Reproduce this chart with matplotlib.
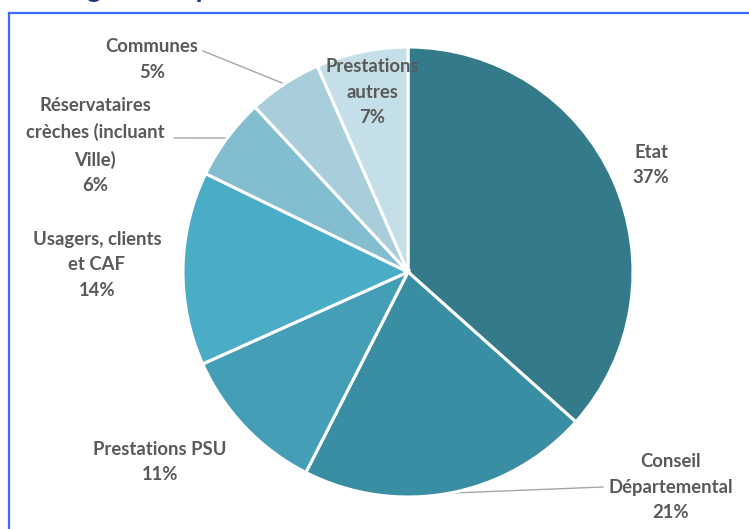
import matplotlib
matplotlib.use("Agg")
import matplotlib.pyplot as plt
from matplotlib.lines import Line2D
import numpy as np

# ---- data ----
categories = ["Etat", "Conseil\nDépartemental", "Prestations PSU",
              "Usagers, clients\net CAF", "Réservataires\ncrèches (incluant\nVille)",
              "Communes", "Prestations\nautres"]
values = [36.6, 20.9, 10.8, 13.9, 5.9, 5.3, 6.6]
pct_labels = ["37%", "21%", "11%", "14%", "6%", "5%", "7%"]
colors = ["#337A8A", "#3A8EA3", "#449EB6", "#4BACC6", "#82BED0", "#A8CEDB", "#C5DFE8"]
title = "Origine des produits"

W, H = 749, 529
fig = plt.figure(figsize=(W / 100, H / 100), dpi=100)
ax = fig.add_axes([0, 0, 1, 1])


def P(x, y):
    return (x, H - y)


cx, cy = P(408, 272)
R = 225
wedges, _ = ax.pie(values, colors=colors, startangle=90, counterclock=False,
                   center=(cx, cy), radius=R, frame=True,
                   wedgeprops=dict(edgecolor="white", linewidth=2.2))
ax.set_xlim(0, W)
ax.set_ylim(0, H)
ax.set_aspect("equal")
ax.axis("off")

# label centre positions (pixel coords)
label_pos = [(651, 165), (671, 487), (160, 462), (97, 265), (95, 145.5), (152, 59.5), (372, 92)]
txt_kw = dict(ha="center", va="center", fontsize=13.3, fontweight="bold",
              color="#595959", family=["Lato", "DejaVu Sans"], linespacing=1.62)
for name, pct, (lx, ly) in zip(categories, pct_labels, label_pos):
    ax.text(*P(lx, ly), f"{name}\n{pct}", **txt_kw)

# leader lines: from label side to the wedge edge
leaders = {1: (603, 487), 4: (174, 138), 5: (203, 51)}
for i, (sx, sy) in leaders.items():
    w = wedges[i]
    th = np.deg2rad((w.theta1 + w.theta2) / 2)
    ex, ey = cx + R * np.cos(th), cy + R * np.sin(th)
    x0, y0 = P(sx, sy)
    ax.plot([x0, ex], [y0, ey], color="#A6A6A6", lw=1.0, zorder=0.5)

# title (cropped at top of the image, only its lower part visible)
ax.text(*P(47, -3), title, ha="left", va="baseline", fontsize=20, fontweight="bold",
        color="#1F3A78", family=["Lato", "DejaVu Sans"])

# blue border (left and top visible)
bc = "#3D6BFF"
fig.add_artist(Line2D([9 / W, 9 / W], [0, 1 - 13 / H], color=bc, lw=1.6, transform=fig.transFigure))
fig.add_artist(Line2D([9 / W, 1], [1 - 13 / H, 1 - 13 / H], color=bc, lw=1.6, transform=fig.transFigure))

fig.savefig("out.png", dpi=100)
